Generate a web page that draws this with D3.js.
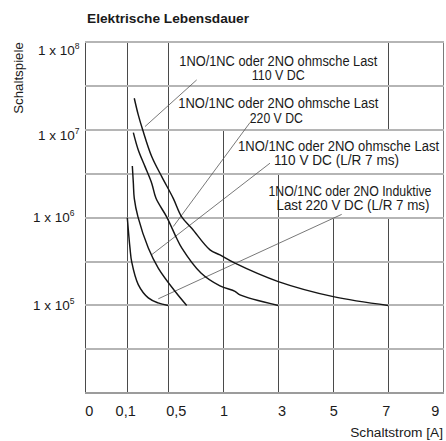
<!DOCTYPE html>
<html><head><meta charset="utf-8">
<script src="https://cdn.jsdelivr.net/npm/d3@7"></script>
<style>html,body{margin:0;padding:0;background:#fff;} svg{display:block;}</style>
</head><body><svg id="c" width="446" height="441"></svg>
<script>
// ---------- data ----------
const xTicks = [0, 0.1, 0.5, 1, 3, 5, 7, 9];
const xTickLabels = ["0", "0,1", "0,5", "1", "3", "5", "7", "9"];
const yTicks = [1e8, 1e7, 1e6, 1e5];
const yTickExponents = ["8", "7", "6", "5"];
const yGridValues = [1e8, 10 ** 7.5, 1e7, 10 ** 6.5, 1e6, 10 ** 5.5, 1e5, 10 ** 4.5, 1e4];

// 1NO/1NC oder 2NO ohmsche Last 110 V DC
const ohm110X = [0.168, 0.207, 0.25, 0.338, 0.436, 0.545, 0.622, 0.713, 0.879, 0.97, 1.425, 3, 5, 7];
const ohm110Y = [2.29e7, 1.48e7, 1.0e7, 4.96e6, 2.93e6, 1.66e6, 1.02e6, 7.57e5, 4.29e5, 3.76e5, 3.03e5, 1.87e5, 1.26e5, 1e5];
// 1NO/1NC oder 2NO ohmsche Last 220 V DC
const ohm220X = [0.159, 0.207, 0.273, 0.338, 0.38, 0.484, 0.576, 0.622, 0.797, 0.97, 1.425, 1.607, 3];
const ohm220Y = [9.3e6, 5.9e6, 3.81e6, 2.47e6, 1.66e6, 1.02e6, 5.82e5, 4.52e5, 2.34e5, 1.67e5, 1.45e5, 1.32e5, 1e5];
// 1NO/1NC oder 2NO ohmsche Last 110 V DC (L/R 7 ms)
const lr110X = [0.149, 0.159, 0.168, 0.204, 0.305, 0.402, 0.561, 0.667];
const lr110Y = [3.88e6, 2.47e6, 1.66e6, 1.02e6, 4.52e5, 2.67e5, 1.45e5, 1e5];
// 1NO/1NC oder 2NO Induktive Last 220 V DC (L/R 7 ms)
const ind220X = [0.1, 0.126, 0.143, 0.207, 0.305, 0.4, 0.5];
const ind220Y = [1e6, 4.52e5, 3.13e5, 1.73e5, 1.22e5, 1.07e5, 1e5];

const labelLine1 = ["1NO/1NC oder 2NO ohmsche Last", "1NO/1NC oder 2NO ohmsche Last", "1NO/1NC oder 2NO ohmsche Last", "1NO/1NC oder 2NO Induktive"];
const labelLine2 = ["110 V DC", "220 V DC", "110 V DC (L/R 7 ms)", "Last 220 V DC (L/R 7 ms)"];
const labelX = [3.0, 3.0, 5.19, 5.607];
const labelY = [5.38e7, 1.76e7, 5.8e6, 1.78e6];

// leader lines: from label (x1,y1) to curve (x2,y2)
const leaderX1 = [0.758, 1.971, 2.698, 5.305];
const leaderY1 = [3.7e7, 1.21e7, 4.17e6, 1.09e6];
const leaderX2 = [0.273, 0.545, 0.341, 0.402];
const leaderY2 = [1.09e7, 7.91e5, 3.81e5, 1.19e5];

const title = "Elektrische Lebensdauer";
const yTitle = "Schaltspiele";
const xTitle = "Schaltstrom [A]";

// ---------- drawing ----------
const svg = d3.select("#c");
const x = d3.scaleLinear().domain(xTicks).range([85, 127.3, 168.3, 223.3, 278.3, 333.3, 388.3, 443]);
const y = d3.scaleLog().domain([1e4, 1e8]).range([393.3, 42]);
const FONT = "'Liberation Sans', Arial, Helvetica, sans-serif";
const NARROW = "'Liberation Sans Narrow', 'Liberation Sans', Arial, sans-serif";

// vertical grid segments [x, bottom value, top value]
const vSeg = [[0, 1e4, 1e8], [0.1, 1e4, 1e8], [0.5, 1e4, 1e8], [1, 1e4, 1e7], [3, 1e4, 10 ** 6.5],
  [5, 1e4, 1e6], [7, 1e4, 1e6], [7, 1e7, 1e8]];
const gV = svg.append("g");
gV.selectAll("line").data(vSeg).join("line")
  .attr("x1", d => Math.floor(x(d[0])) + 0.5).attr("x2", d => Math.floor(x(d[0])) + 0.5)
  .attr("y1", d => y(d[1])).attr("y2", d => y(d[2]))
  .attr("stroke", "#4a4a4a").attr("stroke-width", 1);
// right border
svg.append("line").attr("x1", Math.floor(x(9)) + 0.5).attr("x2", Math.floor(x(9)) + 0.5)
  .attr("y1", y(1e4)).attr("y2", y(1e8)).attr("stroke", "#7a7a7a").attr("stroke-width", 1);

// horizontal grid
svg.append("g").selectAll("line").data(yGridValues).join("line")
  .attr("x1", x(0)).attr("x2", x(9) + 1)
  .attr("y1", d => Math.round(y(d))).attr("y2", d => Math.round(y(d)))
  .attr("stroke", d => d === 1e4 ? "#9c9c9c" : "#b5b5b5").attr("stroke-width", 2);

// leader lines
svg.append("g").selectAll("line").data(leaderX1).join("line")
  .attr("x1", (d, i) => x(leaderX1[i])).attr("y1", (d, i) => y(leaderY1[i]))
  .attr("x2", (d, i) => x(leaderX2[i])).attr("y2", (d, i) => y(leaderY2[i]))
  .attr("stroke", "#555").attr("stroke-width", 0.8);

// curves
const series = [[ohm110X, ohm110Y], [ohm220X, ohm220Y], [lr110X, lr110Y], [ind220X, ind220Y]];
const line = d3.line().x(d => x(d[0])).y(d => y(d[1])).curve(d3.curveCatmullRom.alpha(0.5));
svg.append("g").selectAll("path").data(series).join("path")
  .attr("d", s => line(s[0].map((v, i) => [v, s[1][i]])))
  .attr("fill", "none").attr("stroke", "#151515").attr("stroke-width", 1.45);

// annotation labels
const line1W = [198, 200, 201, 163];
const line2W = [53, 53, 125, 153];
const line2Dx = [0, -2, -2, 3];
const gL = svg.append("g").attr("font-family", NARROW).attr("font-size", 15.5).attr("fill", "#1a1a1a").attr("text-anchor", "middle");
labelLine1.forEach((t, i) => {
  gL.append("text").attr("x", x(labelX[i])).attr("y", y(labelY[i]))
    .attr("textLength", line1W[i]).attr("lengthAdjust", "spacingAndGlyphs").text(t);
  gL.append("text").attr("x", x(labelX[i]) + line2Dx[i]).attr("y", y(labelY[i]) + 14.3)
    .attr("textLength", line2W[i]).attr("lengthAdjust", "spacingAndGlyphs").text(labelLine2[i]);
});

// x tick labels
const xDx = [4.3, -1.6, 8, 0.7, 3.7, 0.4, -2, -7.7];
svg.append("g").selectAll("text").data(xTicks).join("text")
  .attr("x", (d, i) => x(d) + xDx[i]).attr("y", 415.5)
  .attr("text-anchor", "middle").attr("font-family", FONT).attr("font-size", 14.5).attr("fill", "#1a1a1a")
  .text((d, i) => xTickLabels[i]);

// y tick labels
const yLeft = [38, 38, 33, 33];
const yDy = [13, 10, 4.7, 4.7];
const gY = svg.append("g").attr("font-family", FONT).attr("fill", "#1a1a1a");
yTicks.forEach((v, i) => {
  const t = gY.append("text").attr("x", yLeft[i]).attr("y", y(v) + yDy[i]).attr("font-size", 13.5);
  t.append("tspan").text("1 x 10");
  t.append("tspan").attr("font-size", 8.5).attr("dy", -6).text(yTickExponents[i]);
});

// titles
svg.append("text").attr("x", 87).attr("y", 22.7).attr("font-family", FONT).attr("font-weight", "bold")
  .attr("font-size", 13.7).attr("fill", "#1a1a1a").text(title);
svg.append("text").attr("transform", "translate(23,78) rotate(-90)").attr("text-anchor", "middle")
  .attr("font-family", FONT).attr("font-size", 13.3).attr("fill", "#1a1a1a").text(yTitle);
svg.append("text").attr("x", 443).attr("y", 437.3).attr("text-anchor", "end")
  .attr("font-family", FONT).attr("font-size", 13.7).attr("fill", "#1a1a1a").text(xTitle);
</script></body></html>
